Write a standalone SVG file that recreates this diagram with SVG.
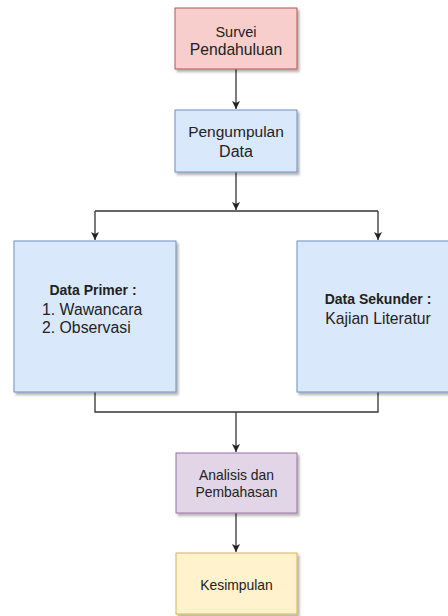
<svg xmlns="http://www.w3.org/2000/svg" width="448" height="616" viewBox="0 0 448 616">
<style>
  text { font-family: "Liberation Sans", Arial, sans-serif; fill: #222; }
  .c { text-anchor: middle; }
  .b { font-weight: bold; }
  .box { stroke-width: 1; filter: url(#sh); }
  .red { fill: #f8cecc; stroke: #b85450; }
  .blue { fill: #dae8fc; stroke: #6c8ebf; }
  .purple { fill: #e1d5e7; stroke: #9673a6; }
  .yellow { fill: #fff2cc; stroke: #d6b656; }
  .edge { fill: none; stroke: #333; stroke-width: 1.3; }
</style>
<defs>
  <filter id="sh" x="-10%" y="-10%" width="130%" height="130%">
    <feDropShadow dx="2" dy="2.5" stdDeviation="1.2" flood-color="#000" flood-opacity="0.3"/>
  </filter>
  <marker id="arr" viewBox="0 0 10 10" refX="10" refY="5" markerWidth="8" markerHeight="8" markerUnits="userSpaceOnUse" orient="auto">
    <path d="M0,0 L10,5 L0,10 L2.5,5 Z" fill="#222"/>
  </marker>
</defs>
<rect width="448" height="616" fill="#fff"/>

<g id="connectors">
  <path class="edge" d="M236,69 V109" marker-end="url(#arr)"/>
  <path class="edge" d="M236,172 V210" marker-end="url(#arr)"/>
  <path class="edge" d="M95,211 H378" />
  <path class="edge" d="M95,211 V240" marker-end="url(#arr)"/>
  <path class="edge" d="M378,211 V240" marker-end="url(#arr)"/>
  <path class="edge" d="M95,392 V412 H378 V392"/>
  <path class="edge" d="M236,412 V452" marker-end="url(#arr)"/>
  <path class="edge" d="M236,513 V552" marker-end="url(#arr)"/>
</g>

<g id="survei">
  <rect class="box red" x="175" y="8" width="122" height="61"/>
  <text class="c" x="236" y="37" font-size="14.5">Survei</text>
  <text class="c" x="236" y="55" font-size="15.7">Pendahuluan</text>
</g>

<g id="pengumpulan">
  <rect class="box blue" x="175" y="110" width="122" height="62"/>
  <text class="c" x="236" y="137" font-size="15.5">Pengumpulan</text>
  <text class="c" x="236" y="157" font-size="16">Data</text>
</g>

<g id="primer">
  <rect class="box blue" x="14" y="241" width="162" height="151"/>
  <text class="c b" x="93" y="295" font-size="14">Data Primer :</text>
  <text x="42" y="315" font-size="15.8">1. Wawancara</text>
  <text x="42" y="333" font-size="15.8">2. Observasi</text>
</g>

<g id="sekunder">
  <rect class="box blue" x="297" y="241" width="162" height="151"/>
  <text class="c b" x="378" y="304" font-size="14">Data Sekunder :</text>
  <text class="c" x="378" y="324" font-size="15.7">Kajian Literatur</text>
</g>

<g id="analisis">
  <rect class="box purple" x="176" y="453" width="121" height="60"/>
  <text class="c" x="236.5" y="480" font-size="13.9">Analisis dan</text>
  <text class="c" x="236.5" y="497" font-size="13.9">Pembahasan</text>
</g>

<g id="kesimpulan">
  <rect class="box yellow" x="176" y="553" width="121" height="61"/>
  <text class="c" x="236.5" y="590" font-size="13.9">Kesimpulan</text>
</g>
</svg>
